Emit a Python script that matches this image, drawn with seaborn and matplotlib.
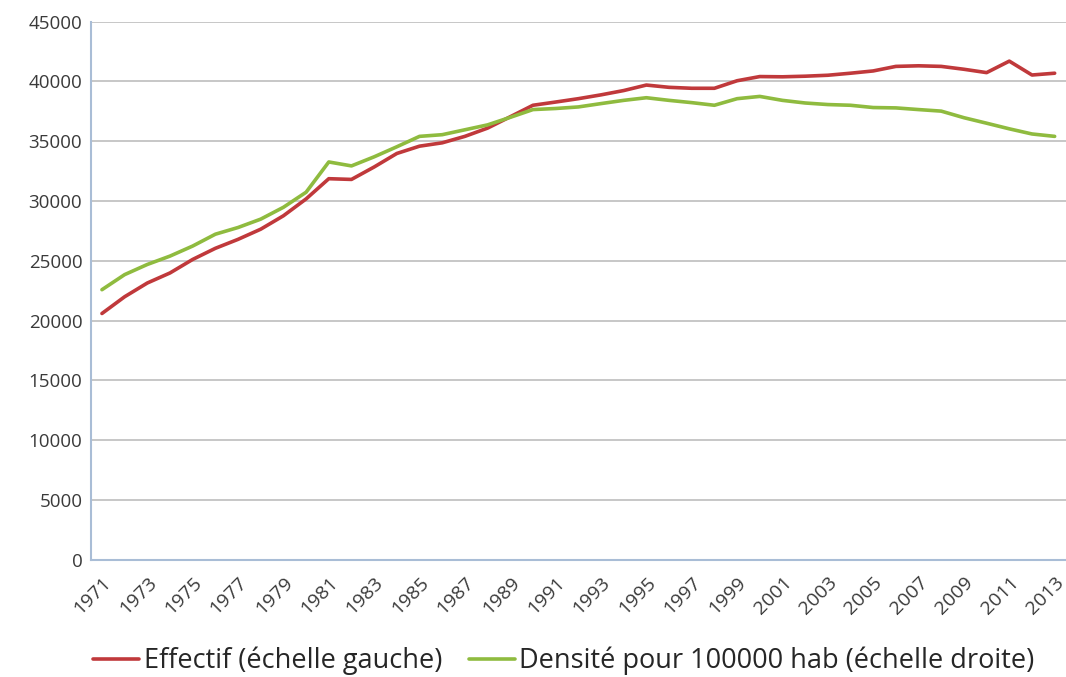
import matplotlib.pyplot as plt
import numpy as np
import pandas as pd
import seaborn as sns

# === data
years = list(range(1971, 2014))
effectif = [20600, 22000, 23150, 23990, 25120, 26050, 26800, 27650, 28770, 30180,
            31870, 31810, 32850, 33980, 34590, 34870, 35410, 36100, 37050, 38010,
            38280, 38560, 38880, 39240, 39700, 39510, 39430, 39430, 40060, 40410,
            40390, 40440, 40520, 40690, 40880, 41260, 41310, 41260, 41020, 40740,
            41700, 40540, 40690]
densite = [22590, 23850, 24700, 25400, 26240, 27230, 27790, 28490, 29480, 30740,
           33270, 32940, 33700, 34540, 35410, 35550, 35960, 36370, 37000, 37650,
           37740, 37870, 38150, 38420, 38640, 38420, 38230, 38010, 38560, 38750,
           38420, 38200, 38070, 38010, 37820, 37790, 37650, 37520, 36970, 36510,
           36040, 35610, 35410]
labels = ["Effectif (échelle gauche)", "Densité pour 100000 hab (échelle droite)"]
colors = ["#c0393b", "#8fbb3f"]

df = pd.DataFrame({"year": years * 2,
                   "value": effectif + densite,
                   "serie": [labels[0]] * len(years) + [labels[1]] * len(years)})

sns.set_style("white")
plt.rcParams["font.family"] = ["Open Sans", "DejaVu Sans"]

fig = plt.figure(figsize=(10.66, 6.77), dpi=100)
ax = fig.add_axes([0.085, 0.173, 0.915, 0.795])

sns.lineplot(data=df, x="year", y="value", hue="serie", palette=colors,
             linewidth=2.6, ax=ax, legend=False)

ax.set_xlim(1970.5, 2013.5)
ax.set_ylim(0, 45000)
ax.set_yticks(np.arange(0, 45001, 5000))
ax.set_xticks(years[::2])
ax.set_xticklabels([str(y) for y in years[::2]], rotation=45, ha="right",
                   rotation_mode="anchor")
ax.tick_params(axis="y", labelsize=13.5, colors="#3a3a3a", length=0, pad=6)
ax.tick_params(axis="x", labelsize=14, colors="#3a3a3a", length=0, pad=10)
ax.grid(axis="y", color="#bdbdbd", linewidth=1.2)
ax.set_axisbelow(True)
for s in ["top", "right"]:
    ax.spines[s].set_visible(False)
for s in ["left", "bottom"]:
    ax.spines[s].set_color("#a9bdd6")
    ax.spines[s].set_linewidth(1.5)
ax.set_xlabel("")
ax.set_ylabel("")

handles = [plt.Line2D([], [], color=c, linewidth=2.6) for c in colors]
fig.legend(handles, labels, loc="center", bbox_to_anchor=(0.529, 0.024), ncol=2,
           frameon=False, fontsize=19.5, handlelength=1.7, handletextpad=0.15,
           columnspacing=1.0, borderpad=0)

plt.savefig("out.png", dpi=100)
